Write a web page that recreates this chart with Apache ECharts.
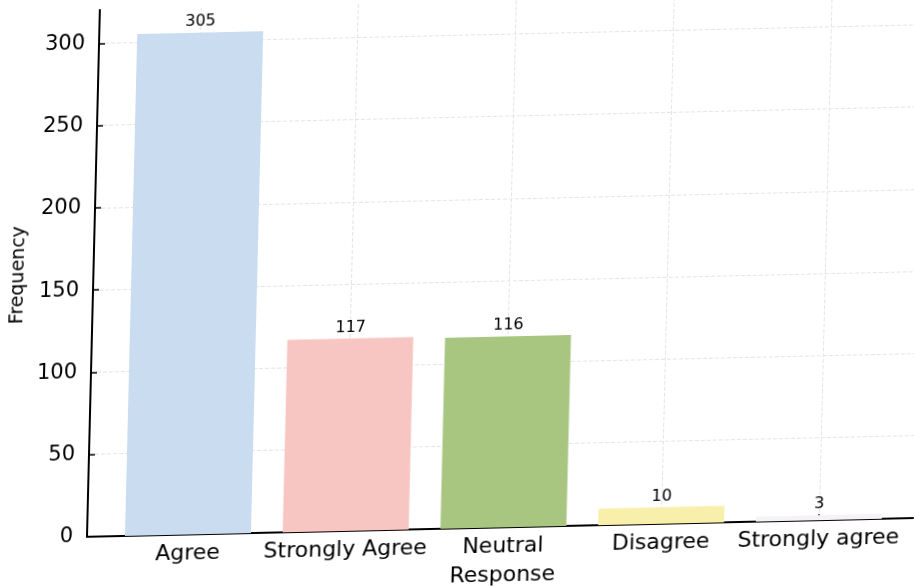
<!DOCTYPE html>
<html>
<head>
<meta charset="utf-8">
<script src="https://cdn.jsdelivr.net/npm/echarts@6/dist/echarts.min.js"></script>
<style>
  html, body { margin: 0; padding: 0; background: #ffffff; overflow: hidden; width: 914px; height: 587px; }
  #chart { width: 914px; height: 620px; transform-origin: 85px 537px; transform: skew(-1.4deg, -1.3deg); }
</style>
</head>
<body>
<div id="chart"></div>
<script>
const categories = ['Agree', 'Strongly Agree', 'Neutral', 'Disagree', 'Strongly agree'];
const frequencies = [305, 117, 116, 10, 3];
const barColors = ['#c9dcf0', '#f8c6c2', '#a9c681', '#f8efaa', '#f6f3f8'];
const yTicks = [0, 50, 100, 150, 200, 250, 300];
const xLabels = ['Agree', 'Strongly Agree', 'Neutral', 'Disagree', 'Strongly agree'];

const chart = echarts.init(document.getElementById('chart'), null, { renderer: 'canvas' });
const font = 'DejaVu Sans';
const idx = categories.map((c, i) => i);

chart.setOption({
  animation: false,
  backgroundColor: '#ffffff',
  grid: { left: 87, right: -6, top: 10, bottom: 83, containLabel: false, outerBoundsMode: 'none' },
  xAxis: {
    type: 'value',
    min: -0.64,
    max: 4.64,
    name: 'Response',
    nameLocation: 'middle',
    nameGap: 37,
    nameTextStyle: { fontFamily: font, fontSize: 22, color: '#000' },
    axisLine: { show: true, onZero: false, lineStyle: { color: '#000', width: 2 } },
    axisTick: { show: true, inside: true, length: 6, customValues: idx, lineStyle: { color: '#000', width: 1.5 } },
    axisLabel: {
      customValues: idx,
      fontFamily: font, fontSize: 22, color: '#000', margin: 8,
      formatter: v => xLabels[Math.round(v)]
    },
    splitLine: { show: true, lineStyle: { color: '#e4e4e4', type: 'dashed', width: 1 } }
  },
  yAxis: {
    type: 'value',
    min: 0,
    max: 320.25,
    name: 'Frequency',
    nameLocation: 'middle',
    nameGap: 59,
    nameTextStyle: { fontFamily: font, fontSize: 19, color: '#000' },
    axisLine: { show: true, onZero: false, lineStyle: { color: '#000', width: 2 } },
    axisTick: { show: true, inside: true, length: 6, customValues: yTicks, lineStyle: { color: '#000', width: 1.5 } },
    axisLabel: { customValues: yTicks, fontFamily: font, fontSize: 21, color: '#000', margin: 14 },
    splitLine: { show: true, lineStyle: { color: '#e4e4e4', type: 'dashed', width: 1 } }
  },
  series: [{
    type: 'bar',
    barWidth: 126,
    data: frequencies.map((v, i) => ({ value: [i, v], itemStyle: { color: barColors[i] } })),
    label: {
      show: true,
      position: 'top',
      distance: 3,
      fontFamily: font,
      fontSize: 16,
      color: '#000',
      formatter: p => p.value[1]
    }
  }]
});
</script>
</body>
</html>
